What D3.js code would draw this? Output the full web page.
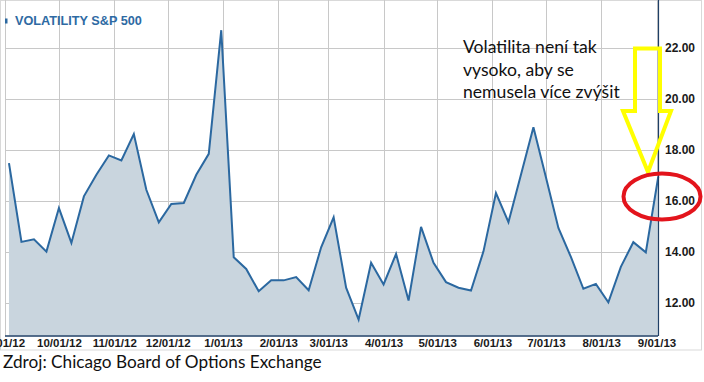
<!DOCTYPE html>
<html><head><meta charset="utf-8">
<script src="https://cdn.jsdelivr.net/npm/d3@7"></script>
<style>
html,body{margin:0;padding:0;background:#fff;}
svg{display:block;}
</style></head>
<body>
<script>
// ---- data ----
const weekStarts = ["2012-09-03","2012-09-10","2012-09-17","2012-09-24","2012-10-01","2012-10-08","2012-10-15","2012-10-22","2012-10-29","2012-11-05","2012-11-12","2012-11-19","2012-11-26","2012-12-03","2012-12-10","2012-12-17","2012-12-24","2012-12-31","2013-01-07","2013-01-14","2013-01-21","2013-01-28","2013-02-04","2013-02-11","2013-02-18","2013-02-25","2013-03-04","2013-03-11","2013-03-18","2013-03-25","2013-04-01","2013-04-08","2013-04-15","2013-04-22","2013-04-29","2013-05-06","2013-05-13","2013-05-20","2013-05-27","2013-06-03","2013-06-10","2013-06-17","2013-06-24","2013-07-01","2013-07-08","2013-07-15","2013-07-22","2013-07-29","2013-08-05","2013-08-12","2013-08-19","2013-08-26","2013-09-02"];
const vix = [17.48,14.38,14.48,14.0,15.71,14.34,16.17,17.02,17.78,17.58,18.62,16.43,15.15,15.87,15.91,17.02,17.84,22.7,13.78,13.32,12.44,12.87,12.87,13.0,12.48,14.17,15.35,12.58,11.33,13.56,12.71,13.91,12.08,14.97,13.56,12.8,12.58,12.47,14.01,16.30,15.16,17.02,18.89,16.92,14.93,13.79,12.54,12.73,12.01,13.40,14.37,13.97,16.95];
const monthTicks = ["2012-09-01","2012-10-01","2012-11-01","2012-12-01","2013-01-01","2013-02-01","2013-03-01","2013-04-01","2013-05-01","2013-06-01","2013-07-01","2013-08-01","2013-09-01"];
const yTicks = [12,14,16,18,20,22];
const seriesName = "VOLATILITY S&P 500";
const noteLines = ["Volatilita není tak","vysoko, aby se","nemusela více zvýšit"];
const sourceText = "Zdroj: Chicago Board of Options Exchange";

(function(){
const W = 704, H = 382;
const parse = d3.timeParse("%Y-%m-%d");
const data = weekStarts.map((d,i)=>({date:parse(d), v:vix[i]}));
const ticks = monthTicks.map(parse);

const pL = 5, pR = 658, pT = 0, pB = 335.5;
const x = d3.scaleTime().domain([parse("2012-09-01"), parse("2013-09-02")]).range([pL+0.4, pR+0.3]);
const y = d3.scaleLinear().domain([12,22]).range([302.5,48]);

const svg = d3.select("body").append("svg").attr("width",W).attr("height",H);

// frame
svg.append("rect").attr("x",0.5).attr("y",0.5).attr("width",701).attr("height",349.5)
  .attr("fill","none").attr("stroke","#d9d9d9").attr("stroke-width",1);

// grid
const grid = svg.append("g");
grid.selectAll("line.h").data(yTicks).join("line")
  .attr("x1",pL).attr("x2",pR).attr("y1",d=>Math.round(y(d))+0.5).attr("y2",d=>Math.round(y(d))+0.5)
  .attr("stroke","#c8c8c8").attr("stroke-width",1);
grid.selectAll("line.v").data(ticks).join("line")
  .attr("x1",d=>Math.round(x(d))+0.5).attr("x2",d=>Math.round(x(d))+0.5).attr("y1",pT).attr("y2",pB)
  .attr("stroke","#c8c8c8").attr("stroke-width",1);

// area + line
const area = d3.area().x(d=>x(d.date)).y0(pB).y1(d=>y(d.v));
const line = d3.line().x(d=>x(d.date)).y(d=>y(d.v));
svg.append("path").datum(data).attr("d",area).attr("fill","#c9d5de");
svg.append("path").datum(data).attr("d",line).attr("fill","none").attr("stroke","#2b68a0").attr("stroke-width",2).attr("stroke-linejoin","miter");

// axis lines
svg.append("line").attr("x1",pL).attr("x2",pR).attr("y1",336).attr("y2",336).attr("stroke","#1f3f66").attr("stroke-width",1.5);
svg.append("line").attr("x1",pR+0.5).attr("x2",pR+0.5).attr("y1",0).attr("y2",336).attr("stroke","#1f3f66").attr("stroke-width",1.2);

// x axis labels
const fmt = d => (d.getMonth()+1) + "/01/" + d3.timeFormat("%y")(d);
const xAxis = svg.append("g").attr("transform","translate(0,336)")
  .call(d3.axisBottom(x).tickValues(ticks).tickFormat(fmt).tickSize(0).tickPadding(3));
xAxis.select(".domain").remove();
xAxis.selectAll("text").attr("font-family","Liberation Sans, Arial, sans-serif").attr("font-weight","bold")
  .attr("font-size","11.5px").attr("fill","#1a1a1a");

// y axis labels
const yAxis = svg.append("g").attr("transform",`translate(${pR},0)`)
  .call(d3.axisRight(y).tickValues(yTicks).tickFormat(d3.format(".2f")).tickSize(0).tickPadding(7));
yAxis.select(".domain").remove();
yAxis.selectAll("text").attr("font-family","Liberation Sans, Arial, sans-serif").attr("font-weight","bold")
  .attr("font-size","12px").attr("fill","#1a1a1a");

// legend
svg.append("rect").attr("x",5).attr("y",18.5).attr("width",2.5).attr("height",5).attr("fill","#2b68a0");
svg.append("text").attr("x",15).attr("y",25).text(seriesName)
  .attr("font-family","Liberation Sans, Arial, sans-serif").attr("font-weight","bold").attr("font-size","12.7px").attr("fill","#2e6aa3");

// annotation text
const note = svg.append("text").attr("font-family","Lato, sans-serif").attr("font-size","17.6px").attr("fill","#111");
noteLines.forEach((t,i)=> note.append("tspan").attr("x",463).attr("y",53+i*22.5).text(t));

// yellow arrow
const arrowPts = [[635,48.5],[660,48.5],[660,111],[671,111],[648,172],[623,111],[635,111]];
svg.append("path").attr("d", "M"+arrowPts.map(p=>p.join(",")).join("L")+"Z")
  .attr("fill","none").attr("stroke","#ffff00").attr("stroke-width",4).attr("stroke-linejoin","miter");

// red ellipse
svg.append("ellipse").attr("cx",662).attr("cy",196.5).attr("rx",38.5).attr("ry",23)
  .attr("fill","none").attr("stroke","#e3141c").attr("stroke-width",4);

// source
svg.append("text").attr("x",3).attr("y",368).text(sourceText)
  .attr("font-family","Lato, sans-serif").attr("font-size","17.2px").attr("fill","#111");
})();
</script>
</body></html>
